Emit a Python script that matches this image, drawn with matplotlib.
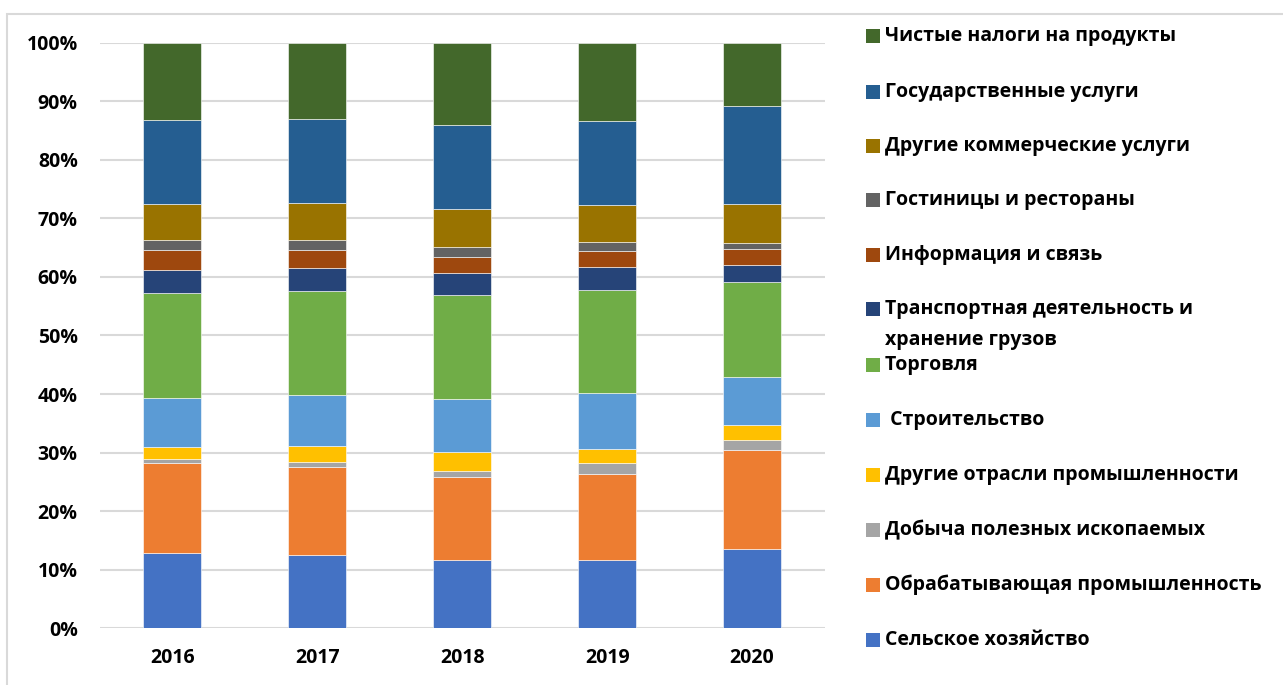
import matplotlib
matplotlib.use("Agg")
import matplotlib.pyplot as plt
from matplotlib.patches import Rectangle
import numpy as np

plt.rcParams["font.family"] = ["Open Sans", "DejaVu Sans"]
plt.rcParams["font.weight"] = "bold"

# ── data (share of GDP, %), stacked bottom -> top ──
years = ["2016", "2017", "2018", "2019", "2020"]

agriculture    = [12.8, 12.5, 11.6, 11.6, 13.5]
manufacturing  = [15.4, 15.0, 14.3, 14.7, 17.0]
mining         = [0.7, 0.9, 1.0, 1.9, 1.6]
other_industry = [2.1, 2.8, 3.2, 2.4, 2.6]
construction   = [8.3, 8.6, 9.0, 9.5, 8.2]
trade          = [18.0, 17.8, 17.9, 17.7, 16.2]
transport      = [3.8, 3.9, 3.7, 3.9, 3.0]
info_comm      = [3.5, 3.1, 2.7, 2.7, 2.6]
hotels         = [1.7, 1.7, 1.7, 1.6, 1.1]
commercial     = [6.1, 6.3, 6.5, 6.3, 6.6]
public         = [14.4, 14.3, 14.3, 14.3, 16.8]
net_taxes      = [13.2, 13.1, 14.1, 13.4, 10.8]

series = [agriculture, manufacturing, mining, other_industry, construction, trade,
          transport, info_comm, hotels, commercial, public, net_taxes]
labels = ["Сельское хозяйство", "Обрабатывающая промышленность",
          "Добыча полезных ископаемых", "Другие отрасли промышленности",
          " Строительство", "Торговля",
          "Транспортная деятельность и\nхранение грузов", "Информация и связь",
          "Гостиницы и рестораны", "Другие коммерческие услуги",
          "Государственные услуги", "Чистые налоги на продукты"]
colors = ["#4472C4", "#ED7D31", "#A5A5A5", "#FFC000", "#5B9BD5", "#70AD47",
          "#264478", "#9E480E", "#636363", "#997300", "#255E91", "#43682B"]

W, H = 1283, 685
fig = plt.figure(figsize=(W / 100, H / 100), dpi=100)
ax = fig.add_axes([100 / W, 1 - 628.3 / H, 724.5 / W, 585.6 / H])

x = np.arange(len(years))
bottom = np.zeros(len(years))
for vals, col in zip(series, colors):
    ax.bar(x, vals, width=0.4, bottom=bottom, color=col,
           edgecolor="white", linewidth=0.4, zorder=3)
    bottom += np.array(vals)

ax.set_xlim(-0.5, len(years) - 0.5)
ax.set_ylim(0, 100)
ax.set_yticks(np.arange(0, 101, 10))
ax.set_yticklabels([f"{v}%" for v in range(0, 101, 10)])
ax.set_xticks(x)
ax.set_xticklabels(years)
ax.tick_params(axis="y", length=0, pad=16, labelsize=14)
ax.tick_params(axis="x", length=0, pad=14, labelsize=14)
ax.grid(axis="y", color="#d9d9d9", linewidth=1.5, zorder=0)
for s in ax.spines.values():
    s.set_visible(False)

# chart-area border
fig.patches.append(Rectangle((7 / W, -0.1), 1.2, 1.1 - 14 / H, transform=fig.transFigure,
                             fill=False, edgecolor="#d9d9d9", linewidth=1.5))

# legend, top entry first
row_y = [36.3, 91.7, 146, 200, 255, 309.3, 365, 420, 475, 530, 585, 640]
for i, y in enumerate(row_y):
    k = len(series) - 1 - i
    fig.patches.append(Rectangle((866 / W, 1 - (y + 7) / H), 14 / W, 14 / H,
                                 transform=fig.transFigure, facecolor=colors[k],
                                 edgecolor="none"))
    parts = labels[k].split("\n")
    fig.text(885 / W, 1 - y / H, parts[0], va="center", ha="left", fontsize=14,
             fontweight="bold", color="black")
    if len(parts) > 1:
        fig.text(885 / W, 1 - (y + 30.7) / H, parts[1], va="center", ha="left",
                 fontsize=14, fontweight="bold", color="black")

fig.savefig("out.png", dpi=100)
